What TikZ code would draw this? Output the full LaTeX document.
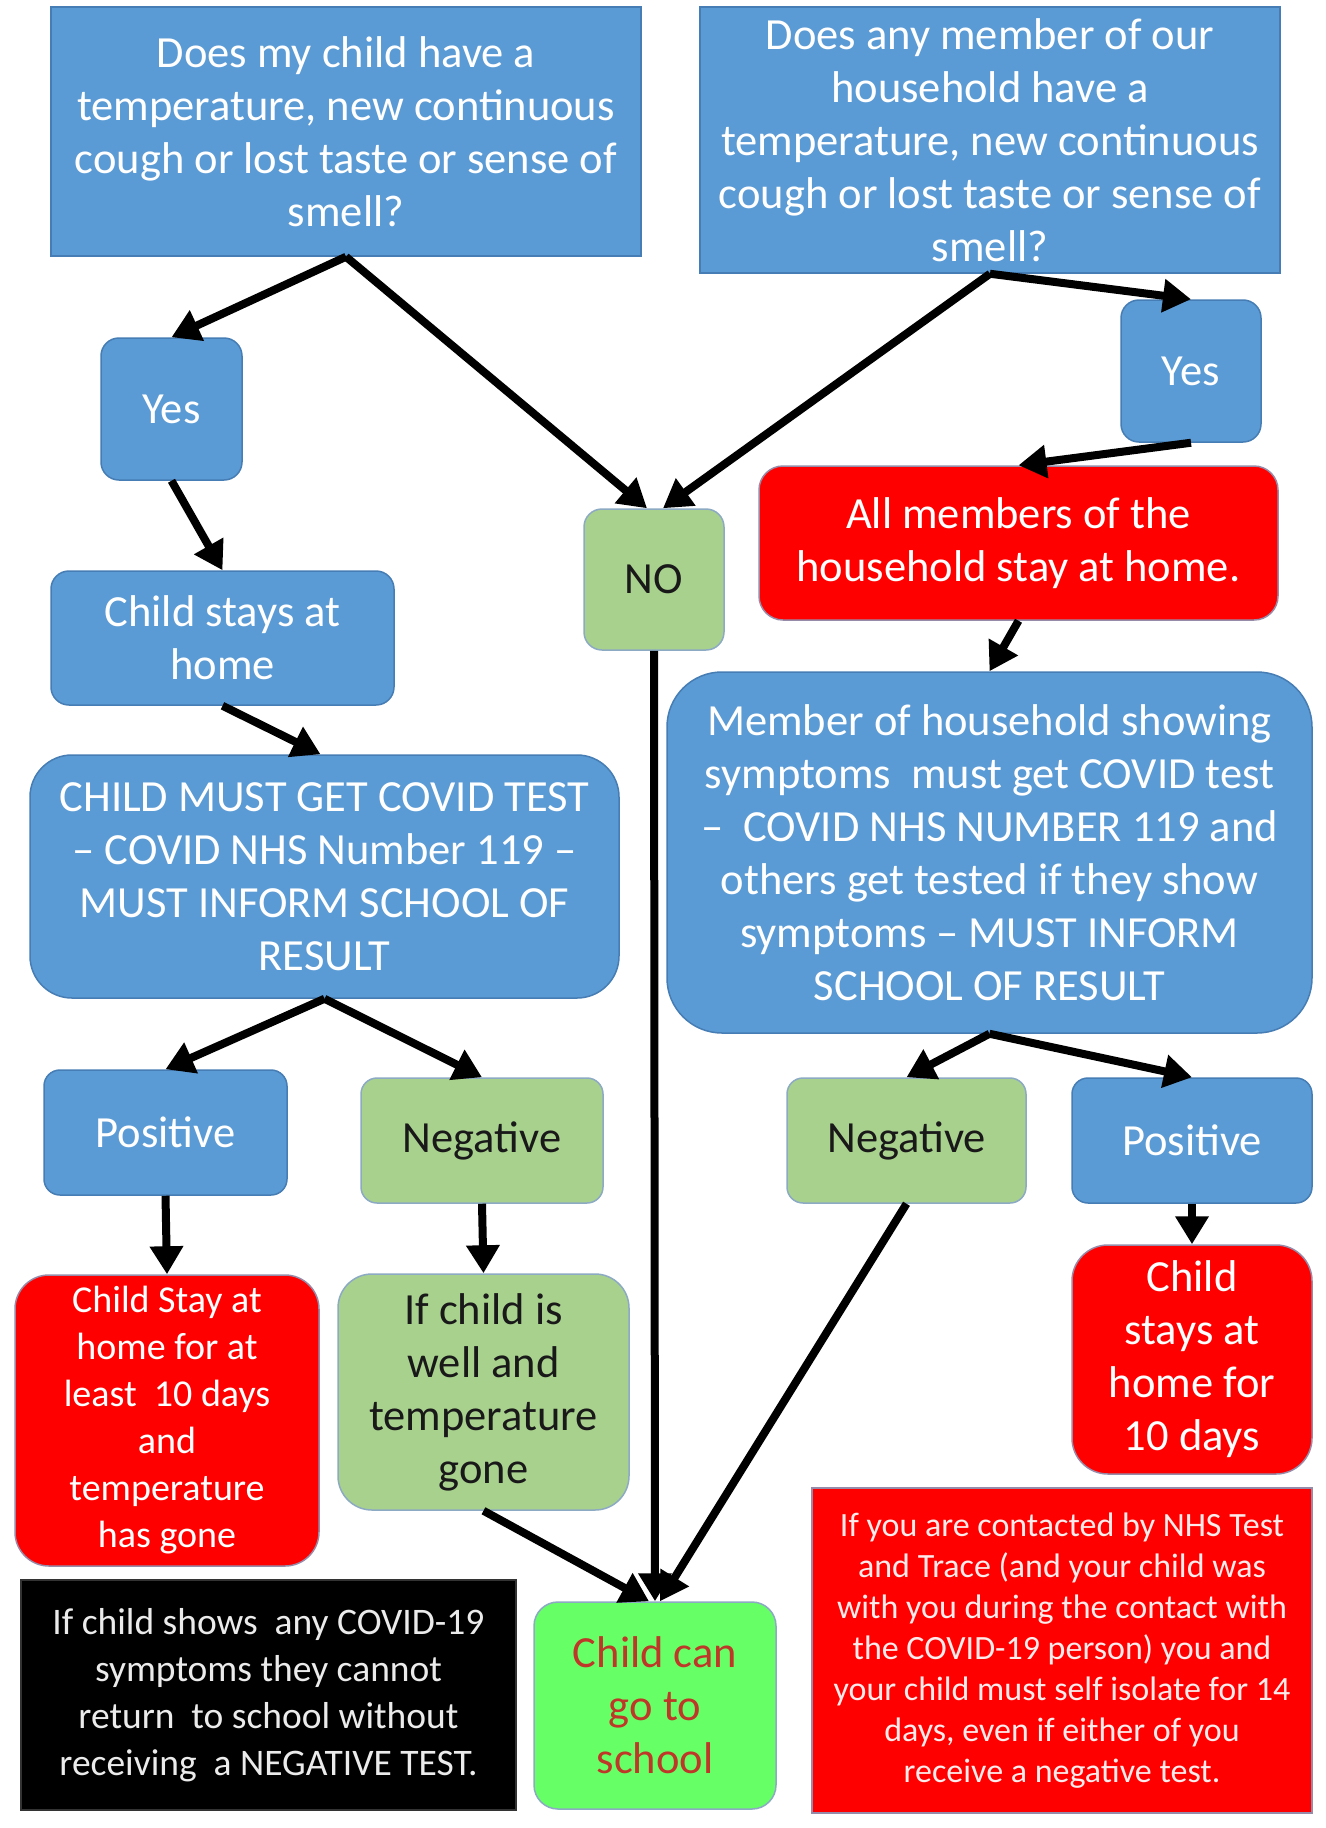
\documentclass[tikz,border=0pt]{standalone}
\usepackage{fontspec}
\setmainfont{Carlito}
\usetikzlibrary{arrows.meta}
\definecolor{ofblue}{RGB}{91,155,213}
\definecolor{ofblueB}{RGB}{70,125,180}
\definecolor{ofgreen}{RGB}{169,209,142}
\definecolor{ofgreenB}{RGB}{140,170,195}
\definecolor{redB}{RGB}{150,140,170}
\definecolor{brightgreen}{RGB}{102,255,102}
\definecolor{schooltext}{RGB}{190,55,40}
\definecolor{lightgraytext}{RGB}{235,235,235}
\definecolor{pinktext}{RGB}{255,235,235}
\tikzset{
  boxbase/.style={inner sep=0pt, align=center, line width=1.5pt},
  bluebox/.style={boxbase, fill=ofblue, draw=ofblueB, text=white},
  greenbox/.style={boxbase, fill=ofgreen, draw=ofgreenB, text=black!90},
  redbox/.style={boxbase, fill=red, draw=redB, text=white},
  bigtext/.style={font=\fontsize{44.5}{53}\selectfont},
  arr/.style={line width=8pt, -{Triangle[length=28pt,width=32pt]}}
}
\begin{document}
\begin{tikzpicture}[x=1pt,y=-1pt]
\useasboundingbox[fill=white] (0,0) rectangle (1325,1828);

% top questions
\node[bluebox, bigtext, minimum width=590pt, minimum height=249pt] (q1) at (346,131.5)
  {Does my child have a\\temperature, new continuous\\cough or lost taste or sense of\\smell?};
\node[bluebox, bigtext, minimum width=580pt, minimum height=266pt] (q2) at (990,140)
  {Does any member of our\\household have a\\temperature, new continuous\\cough or lost taste or sense of\\smell?};

% yes / no
\node[bluebox, bigtext, rounded corners=18pt, minimum width=141pt, minimum height=142pt] (yes1) at (171.5,409) {Yes};
\node[greenbox, bigtext, rounded corners=18pt, minimum width=140pt, minimum height=141pt] (no) at (654,579.5) {NO};
\node[bluebox, bigtext, rounded corners=18pt, minimum width=140pt, minimum height=142pt] (yes2) at (1191,371) {Yes};

\node[redbox, bigtext, rounded corners=24pt, minimum width=519pt, minimum height=154pt] (allm) at (1018.5,543)
  {All members of the\\household stay at home.};
\node[bluebox, bigtext, rounded corners=18pt, minimum width=343pt, minimum height=134pt] (stays) at (222.5,638)
  {Child stays at\\home};

\node[bluebox, bigtext, rounded corners=42pt, minimum width=589pt, minimum height=243pt] (must) at (324.5,876.5)
  {CHILD MUST GET COVID TEST\\– COVID NHS Number 119 –\\MUST INFORM SCHOOL OF\\RESULT};
\node[bluebox, bigtext, rounded corners=55pt, minimum width=645pt, minimum height=361pt] (member) at (989.5,852.5)
  {Member of household showing\\symptoms\ \ must get COVID test\\–\ \ COVID NHS NUMBER 119 and\\others get tested if they show\\symptoms – MUST INFORM\\SCHOOL OF RESULT};

% results
\node[bluebox, bigtext, rounded corners=16pt, minimum width=243pt, minimum height=125pt] (pos1) at (165.5,1132.5) {Positive};
\node[greenbox, bigtext, rounded corners=16pt, minimum width=242pt, minimum height=125pt] (neg1) at (482,1140.5) {Negative};
\node[greenbox, bigtext, rounded corners=16pt, minimum width=239pt, minimum height=125pt] (neg2) at (906.5,1140.5) {Negative};
\node[bluebox, bigtext, rounded corners=16pt, minimum width=240pt, minimum height=125pt] (pos2) at (1192,1140.5) {Positive};

\node[redbox, font=\fontsize{38}{47}\selectfont, rounded corners=34pt, minimum width=304pt, minimum height=291pt] (red1) at (167,1420.5)
  {Child Stay at\\home for at\\least\ \ 10 days\\and\\temperature\\has gone};
\node[greenbox, bigtext, rounded corners=34pt, minimum width=291pt, minimum height=236pt] (green1) at (483.5,1392)
  {If child is\\well and\\temperature\\gone};
\node[redbox, bigtext, rounded corners=36pt, minimum width=240pt, minimum height=229pt] (red2) at (1192,1359.5)
  {Child\\stays at\\home for\\10 days};

% bottom
\node[boxbase, fill=black, draw=black!80, text=lightgraytext, font=\fontsize{37.5}{47}\selectfont, minimum width=495pt, minimum height=230pt] (note) at (268.5,1695)
  {If child shows\ \ any COVID-19\\symptoms they cannot\\return\ \ to school without\\receiving\ \ a NEGATIVE TEST.};
\node[boxbase, fill=brightgreen, draw=ofgreenB, text=schooltext, bigtext, rounded corners=24pt, minimum width=242pt, minimum height=207pt] (school) at (655,1705.5)
  {Child can\\go to\\school};
\node[redbox, text=pinktext, font=\fontsize{34}{41}\selectfont, minimum width=500pt, minimum height=325pt] (trace) at (1062,1650.5)
  {If you are contacted by NHS Test\\and Trace (and your child was\\with you during the contact with\\the COVID-19 person) you and\\your child must self isolate for 14\\days, even if either of you\\receive a negative test.};

% connectors
\draw[arr] (q1.south) -- (yes1.north);
\draw[arr] (q1.south) -- ([xshift=-7pt]no.north);
\draw[arr] (q2.south) -- ([xshift=9pt]no.north);
\draw[arr] (q2.south) -- (yes2.north);
\draw[arr] (yes2.south) -- (allm.north);
\draw[arr] (yes1.south) -- (stays.north);
\draw[arr] (allm.south) -- (member.north);
\draw[arr] (stays.south) -- ([xshift=-4pt]must.north);
\draw[arr] (must.south) -- (pos1.north);
\draw[arr] (must.south) -- (neg1.north);
\draw[arr] (member.south) -- (neg2.north);
\draw[arr] (member.south) -- (pos2.north);
\draw[arr] (pos1.south) -- (red1.north);
\draw[arr] (neg1.south) -- (green1.north);
\draw[arr] (pos2.south) -- (red2.north);
\draw[arr] (no.south) -- (school.north);
\draw[arr] (green1.south) -- ([xshift=-6pt]school.north);
\draw[arr] (neg2.south) -- ([xshift=5pt]school.north);
\end{tikzpicture}
\end{document}
